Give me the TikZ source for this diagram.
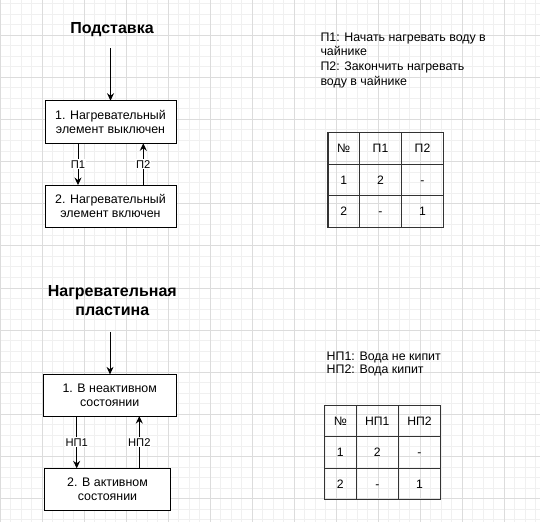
\documentclass[tikz,border=0pt]{standalone}
\usepackage{fontspec}
\setmainfont{Liberation Sans}
\usetikzlibrary{arrows.meta}
\definecolor{gridmajor}{HTML}{DCDCDC}
\definecolor{gridminor}{HTML}{F0F0F0}
\definecolor{tableline}{HTML}{333333}
\begin{document}
\begin{tikzpicture}[x=1pt,y=-1pt,
  every node/.style={inner sep=0pt, outer sep=0pt},
  titletext/.style={font=\fontsize{16}{19.3}\selectfont\bfseries, align=center},
  statebox/.style={draw=black, line width=1pt, fill=white, align=center,
    font=\fontsize{12.4}{14}\selectfont},
  flow/.style={draw=black, line width=1pt, -{Stealth[length=7.5pt,width=7pt,inset=2.5pt]}},
  elabel/.style={fill=white, inner sep=1pt, font=\fontsize{11.2}{13}\selectfont},
  cell/.style={draw=tableline, line width=1.3pt, minimum height=31.5pt,
    text height=8.8pt, text depth=0pt,
    font=\fontsize{12.2}{14}\selectfont},
  minorline/.style={draw=gridminor, line width=0.8pt},
  majorline/.style={draw=gridmajor, line width=0.8pt}]
\useasboundingbox (0,0) rectangle (540,522);
\fill[white] (0,0) rectangle (540,522);
% grid
\foreach \i in {0,...,52} \draw[minorline] (\i*10.5,0) -- (\i*10.5,522);
\foreach \i in {-3,...,46} \draw[minorline] (0,35+\i*10.5375) -- (540,35+\i*10.5375);
\foreach \i in {0,...,13} \draw[majorline] (\i*42,0) -- (\i*42,522);
\foreach \i in {0,...,11} \draw[majorline] (0,35+\i*42.15) -- (540,35+\i*42.15);

% ---------- top part ----------
\node[titletext, anchor=base] (t1) at (112,33.3) {Подставка};
\coordinate (s1) at (110.5,48);
\node[statebox, minimum width=131pt, minimum height=42.6pt] (b1) at (110.5,122) {1. Нагревательный\\элемент выключен};
\node[statebox, minimum width=131pt, minimum height=42.3pt] (b2) at (110.5,206.2) {2. Нагревательный\\элемент включен};
\draw[flow] (s1) -- (b1.north);
\draw[flow] ([xshift=-32.5pt]b1.south) -- node[elabel] (l1) {П1} ([xshift=-32.5pt]b2.north);
\draw[flow] ([xshift=32.8pt]b2.north) -- node[elabel] (l2) {П2} ([xshift=32.8pt]b1.south);

\node[anchor=north west, align=left, font=\fontsize{12.4}{14.7}\selectfont] (leg1) at (320.5,32.7)
  {П1: Начать нагревать воду в\\чайнике\\П2: Закончить нагревать\\воду в чайнике};

\foreach [count=\j] \t/\cx/\w in {№/343.75/31.5, П1/380.5/42, П2/422.5/42}
  \node[cell, minimum width=\w pt] (ta-1-\j) at (\cx,148.5) {\t};
\foreach [count=\j] \t/\cx/\w in {1/343.75/31.5, 2/380.5/42, -/422.5/42}
  \node[cell, minimum width=\w pt] (ta-2-\j) at (\cx,180) {\t};
\foreach [count=\j] \t/\cx/\w in {2/343.75/31.5, -/380.5/42, 1/422.5/42}
  \node[cell, minimum width=\w pt] (ta-3-\j) at (\cx,211.5) {\t};

% ---------- bottom part ----------
\node[titletext, anchor=north] (t2) at (112.3,285.2) {Нагревательная\\пластина};
\coordinate (s2) at (110,331.7);
\node[statebox, minimum width=132.7pt, minimum height=41.7pt] (b3) at (109.7,395.2) {1. В неактивном\\состоянии};
\node[statebox, minimum width=126.4pt, minimum height=41.7pt] (b4) at (107.5,489.2) {2. В активном\\состоянии};
\draw[flow] (s2) -- (s2 |- b3.north);
\draw[flow] ([xshift=-33pt]b3.south) -- node[elabel] (l3) {НП1} ([xshift=-33pt]b3.south |- b4.north);
\draw[flow] ([xshift=31.8pt]b4.north) -- node[elabel] (l4) {НП2} ([xshift=31.8pt]b4.north |- b3.south);

\node[anchor=north west, align=left, font=\fontsize{12.4}{13.3}\selectfont] (leg2) at (326.7,351.8)
  {НП1: Вода не кипит\\НП2: Вода кипит};

\foreach [count=\j] \t/\cx/\w in {№/340.3/32, НП1/377.3/42, НП2/419.5/42.4}
  \node[cell, minimum width=\w pt, minimum height=31pt] (tb-1-\j) at (\cx,421.2) {\t};
\foreach [count=\j] \t/\cx/\w in {1/340.3/32, 2/377.3/42, -/419.5/42.4}
  \node[cell, minimum width=\w pt, minimum height=31.6pt] (tb-2-\j) at (\cx,452.5) {\t};
\foreach [count=\j] \t/\cx/\w in {2/340.3/32, -/377.3/42, 1/419.5/42.4}
  \node[cell, minimum width=\w pt, minimum height=31pt] (tb-3-\j) at (\cx,483.8) {\t};
\end{tikzpicture}
\end{document}
